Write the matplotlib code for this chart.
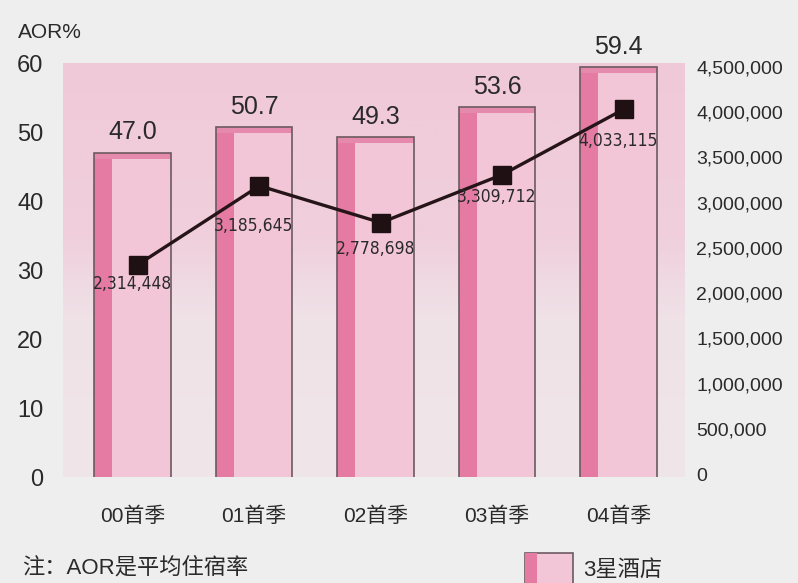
import numpy as np
import matplotlib.pyplot as plt
from matplotlib.patches import Rectangle
from matplotlib.colors import LinearSegmentedColormap

plt.rcParams.update({
    "font.family": ["Liberation Sans", "Noto Sans CJK SC", "DejaVu Sans"],
    "figure.dpi": 100,
})

MIXED = ["Liberation Sans", "Noto Sans CJK SC", "DejaVu Sans"]

PAPER = "#efeeee"
FACE = "#f3c6d7"
STRIP = "#e57ba3"
TOP = "#e68aad"
EDGE = "#6b5a60"
LINE = "#261518"
TEXT = "#2a2a2a"

quarters = ["00首季", "01首季", "02首季", "03首季", "04首季"]
aor = [47.0, 50.7, 49.3, 53.6, 59.4]
guests = [2314448, 3185645, 2778698, 3309712, 4033115]
guest_labels = ["2,314,448", "3,185,645", "2,778,698", "3,309,712", "4,033,115"]
left_ticks = [0, 10, 20, 30, 40, 50, 60]
right_ticks = [0, 500000, 1000000, 1500000, 2000000, 2500000,
               3000000, 3500000, 4000000, 4500000]

# label offsets below the markers (points)
label_dy = [-14, -29, -19, -16, -23]

fig = plt.figure(figsize=(7.98, 5.83), facecolor=PAPER)
ax = fig.add_axes([0.0789, 0.1818, 0.7794, 0.7101])
ax.set_facecolor(PAPER)
ax.set_xlim(-0.572, 4.547)
ax.set_ylim(0, 60)

# pink band behind the chart, fading downward
cmap = LinearSegmentedColormap.from_list(
    "bg", [(0, "#efe6e9"), (0.38, "#efe2e7"), (0.58, "#f0cfdc"), (1, "#f0c9d8")])
grad = np.linspace(0, 1, 200).reshape(-1, 1)
ax.imshow(grad, extent=(-0.572, 4.547, 0, 60), origin="lower", aspect="auto",
          cmap=cmap, zorder=0)

x = np.arange(len(quarters))
w = 0.63
strip_w = 0.15
top_h = 0.9
for xi, v in zip(x, aor):
    x0 = xi - w / 2
    ax.add_patch(Rectangle((x0, -0.4), w, v + 0.4, facecolor=FACE, edgecolor="none", zorder=2))
    ax.add_patch(Rectangle((x0, -0.4), strip_w, v + 0.4, facecolor=STRIP, edgecolor="none", zorder=2))
    ax.add_patch(Rectangle((x0, v - top_h), w, top_h, facecolor=TOP, edgecolor="none", zorder=2))
    ax.add_patch(Rectangle((x0, -0.4), w, v + 0.4, facecolor="none", edgecolor=EDGE, lw=1.2, zorder=3))
    ax.annotate(f"{v:.1f}", (xi, v), xytext=(0, 6), textcoords="offset points",
                ha="center", va="bottom", fontsize=18, color=TEXT, zorder=5,
                annotation_clip=False)

ax.set_xticks(x)
ax.set_xticklabels(quarters, family=MIXED, fontsize=15, color=TEXT)
ax.tick_params(axis="x", length=0, pad=21)
ax.set_yticks(left_ticks)
ax.set_yticklabels([str(t) for t in left_ticks], fontsize=17, color=TEXT)
ax.tick_params(axis="y", length=0, pad=14)
for s in ax.spines.values():
    s.set_visible(False)

ax2 = ax.twinx()
ax2.set_ylim(-33000, 4543000)
ax2.set_yticks(right_ticks)
ax2.set_yticklabels([f"{t:,}" for t in right_ticks], fontsize=14, color=TEXT)
ax2.tick_params(axis="y", length=0, pad=8)
for s in ax2.spines.values():
    s.set_visible(False)

ax2.plot(x + 0.045, guests, color=LINE, lw=2.4, marker="s", markersize=13,
         markerfacecolor="#1e1013", markeredgecolor="#1e1013", zorder=6)
for xi, g, lab, dy in zip(x, guests, guest_labels, label_dy):
    ax2.annotate(lab, (xi, g), xytext=(0, dy), textcoords="offset points",
                 ha="center", va="center", fontsize=12.5, family="DejaVu Sans",
                 fontstretch="condensed", color=TEXT, zorder=7)

fig.text(18 / 798, 1 - 33 / 583, "AOR%", fontsize=15, color=TEXT, va="center", ha="left")
fig.text(22 / 798, 1 - 568 / 583, "注：AOR是平均住宿率", family=MIXED, fontsize=16,
         color=TEXT, va="center", ha="left")

# legend swatch
fig.patches.append(Rectangle((525 / 798, -0.01), 48 / 798, 0.062, transform=fig.transFigure,
                             facecolor=FACE, edgecolor=EDGE, lw=1.2))
fig.patches.append(Rectangle((525 / 798, -0.01), 12 / 798, 0.062, transform=fig.transFigure,
                             facecolor=STRIP, edgecolor="none"))
fig.text(583 / 798, 1 - 570 / 583, "3星酒店", family=MIXED, fontsize=16,
         color=TEXT, va="center", ha="left")

fig.savefig("out.png", dpi=100, facecolor=PAPER)
